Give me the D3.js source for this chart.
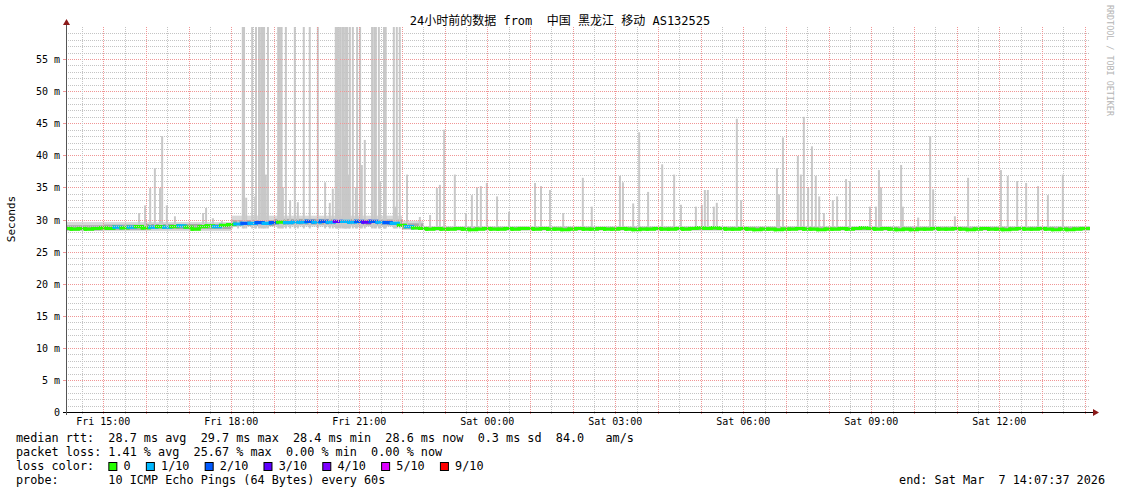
<!DOCTYPE html>
<html>
<head>
<meta charset="utf-8">
<script src="https://cdn.jsdelivr.net/npm/d3@7"></script>
<style>
  body { margin: 0; background: #fff; }
  text { font-family: "DejaVu Sans Mono", "Noto Sans CJK SC", monospace; white-space: pre; }
</style>
</head>
<body>
<div id="grafica"></div>
<script>
// ---- Datos (horas desde Fri 00:00, Sat = 24+) ----
const startHour = 14 + 7 / 60 + 37 / 3600   // Fri 14:07:37
const endHour = startHour + 24               // Sat 14:07:37
const binStart = 14 + 10 / 60                // primer bin: Fri 14:10
const binMinutes = 10

// mediana RTT (ms) cada 10 minutos
const medianMs = [
  28.6, 28.5, 28.6, 28.5, 28.6,
  28.7, 28.6, 28.8, 28.7, 28.8, 28.9,
  28.7, 28.8, 28.9, 28.8, 28.9, 29.0,
  28.8, 28.5, 28.9, 29.0, 28.9, 29.1,
  29.2, 29.3, 29.4, 29.4, 29.5, 29.4,
  29.5, 29.6, 29.5, 29.6, 29.6, 29.7,
  29.6, 29.7, 29.6, 29.7, 29.7, 29.6,
  29.7, 29.6, 29.7, 29.6, 29.5, 29.4,
  29.1, 28.9, 28.7,
  28.6, 28.5, 28.6, 28.5, 28.5, 28.6, 28.5, 28.4, 28.5,
  28.6, 28.5, 28.5, 28.6, 28.5, 28.6, 28.6, 28.5, 28.6, 28.5, 28.5, 28.4,
  28.5, 28.6, 28.5, 28.5, 28.6, 28.5, 28.5, 28.6, 28.5, 28.4, 28.5, 28.5,
  28.6, 28.5, 28.5, 28.6, 28.5, 28.6, 28.7, 28.6, 28.7, 28.6, 28.5, 28.5,
  28.6, 28.5, 28.4, 28.5, 28.5, 28.4, 28.5, 28.5, 28.6, 28.5, 28.5, 28.4,
  28.5, 28.5, 28.6, 28.5, 28.6, 28.7, 28.6, 28.5, 28.6, 28.5, 28.4, 28.5,
  28.4, 28.5, 28.5, 28.6, 28.5, 28.5, 28.6, 28.5, 28.4, 28.5, 28.6, 28.5,
  28.5, 28.4, 28.5, 28.6, 28.5, 28.5, 28.6, 28.5, 28.4, 28.5, 28.4, 28.5, 28.6
]

// pérdida (décimas) por bin
const lossTenths = [
  0, 0, 0, 0, 0,
  0, 0, 1, 0, 1, 0,
  0, 1, 0, 1, 0, 1,
  0, 0, 0, 0, 1, 0,
  0, 1, 2, 1, 2, 1,
  2, 0, 1, 1, 1, 2,
  1, 2, 1, 3, 1, 1,
  2, 3, 2, 1, 2, 1,
  0, 1, 0,
  0, 0, 0, 0, 0, 0, 0, 0, 0,
  0, 0, 0, 0, 0, 0, 0, 0, 0, 0, 0, 0,
  0, 0, 0, 0, 0, 0, 0, 0, 0, 0, 0, 0,
  0, 0, 0, 0, 0, 0, 0, 0, 0, 0, 0, 0,
  0, 0, 0, 0, 0, 0, 0, 0, 0, 0, 0, 0,
  0, 0, 0, 0, 0, 0, 0, 0, 0, 0, 0, 0,
  0, 0, 0, 0, 0, 0, 0, 0, 0, 0, 0, 0,
  0, 0, 0, 0, 0, 0, 0, 0, 0, 0, 0, 0, 0
]

// humo: [desde, hasta, bajo ms, alto ms]
const smokeOuter = [
  [14.12, 18.0, 28.2, 29.6],
  [18.0, 22.0, 28.9, 30.6],
  [22.0, 22.5, 28.4, 29.8],
  [22.5, 38.2, 28.25, 28.95]
]
const smokeInner = [
  [14.12, 15.0, 28.3, 29.1],
  [15.0, 16.0, 28.4, 29.2],
  [16.0, 17.0, 28.5, 29.3],
  [17.0, 18.0, 28.5, 29.3],
  [18.0, 19.0, 29.0, 29.9],
  [19.0, 20.0, 29.2, 30.1],
  [20.0, 21.0, 29.2, 30.1],
  [21.0, 22.0, 29.1, 30.0],
  [22.0, 22.5, 28.5, 29.4],
  [22.5, 38.2, 28.35, 28.8]
]

// picos de ping máximo: [hora, ms]
const spikes = [
  [15.84, 31.0], [15.98, 32.2], [16.10, 34.9], [16.21, 38.0], [16.33, 34.9], [16.38, 43.0],
  [16.49, 32.2], [16.68, 30.5], [17.34, 31.0], [17.41, 31.8], [17.57, 30.2], [17.78, 29.8],
  [18.02, 30.0], [18.16, 29.9], [18.27, 60], [18.30, 60], [18.35, 33.4], [18.49, 60],
  [18.56, 33.6], [18.58, 60], [18.65, 60], [18.70, 60], [18.74, 60], [18.77, 60],
  [18.81, 37.0], [18.86, 60], [19.10, 60], [19.14, 60], [19.18, 60], [19.21, 35.0],
  [19.28, 60], [19.38, 33.0], [19.49, 60], [19.56, 32.7], [19.70, 60], [19.84, 60],
  [20.03, 60], [20.20, 35.8], [20.31, 32.6], [20.38, 34.8], [20.45, 60], [20.48, 60],
  [20.50, 60], [20.55, 60], [20.60, 60], [20.64, 60], [20.67, 43.0], [20.69, 60],
  [20.72, 60], [20.76, 37.0], [20.78, 60], [20.85, 60], [20.92, 35.0], [20.95, 60],
  [21.02, 60], [21.06, 38.5], [21.13, 42.4], [21.30, 60], [21.35, 60], [21.39, 60],
  [21.46, 60], [21.49, 36.0], [21.58, 60], [21.60, 35.0], [21.62, 60], [21.81, 60],
  [21.84, 32.0], [21.88, 60], [21.95, 60], [22.12, 37.0], [22.42, 30.4], [22.66, 30.7],
  [22.82, 34.9], [22.89, 35.4], [22.99, 44.0], [23.24, 37.0], [23.50, 31.0], [23.64, 33.8],
  [23.76, 35.0], [23.85, 35.2], [23.99, 35.7], [24.23, 33.6], [24.51, 31.2], [25.12, 35.7],
  [25.26, 35.2], [25.47, 34.6], [25.78, 31.0], [26.24, 36.5], [26.45, 32.0], [27.11, 36.8],
  [27.18, 35.8], [27.42, 32.5], [27.56, 43.6], [27.77, 34.3], [28.10, 38.6], [28.38, 37.0],
  [28.54, 32.3], [28.89, 32.0], [29.03, 32.3], [29.10, 34.6], [29.17, 34.6], [29.31, 32.0],
  [29.38, 32.6], [29.85, 45.7], [29.95, 33.0], [30.79, 38.0], [30.84, 33.9], [30.93, 42.8],
  [31.28, 39.9], [31.35, 37.0], [31.42, 46.0], [31.52, 35.0], [31.61, 41.4], [31.70, 36.8],
  [31.78, 33.6], [31.89, 31.0], [32.10, 33.0], [32.20, 33.6], [32.41, 36.3], [32.50, 36.0],
  [32.97, 32.0], [33.11, 32.0], [33.18, 37.7], [33.23, 35.0], [33.70, 38.5], [33.74, 32.0],
  [34.10, 30.3], [34.38, 43.0], [34.45, 34.7], [34.96, 30.5], [35.27, 36.5], [36.04, 37.7],
  [36.20, 36.8], [36.42, 36.0], [36.63, 35.7], [36.91, 35.2], [37.14, 33.8], [37.49, 37.0]
]

// ejes
const xTickHours = [15, 18, 21, 24, 27, 30, 33, 36]
const xTickLabels = ["Fri 15:00", "Fri 18:00", "Fri 21:00", "Sat 00:00", "Sat 03:00", "Sat 06:00", "Sat 09:00", "Sat 12:00"]
const yTicks = [0, 5, 10, 15, 20, 25, 30, 35, 40, 45, 50, 55]

// leyenda
const lossLevels = ["0", "1/10", "2/10", "3/10", "4/10", "5/10", "9/10"]
const lossColors = ["#26ff00", "#00b8ff", "#0059ff", "#5e00ff", "#7e00ff", "#dd00ff", "#ff0000"]
const lossValues = [0, 1, 2, 3, 4, 5, 9]

const titulo = "24小时前的数据 from  中国 黑龙江 移动 AS132525"
const filaRtt = "median rtt:  28.7 ms avg  29.7 ms max  28.4 ms min  28.6 ms now  0.3 ms sd  84.0   am/s"
const filaLoss = "packet loss: 1.41 % avg  25.67 % max  0.00 % min  0.00 % now"
const filaProbe = "probe:       10 ICMP Echo Pings (64 Bytes) every 60s"
const textoFin = "end: Sat Mar  7 14:07:37 2026"

// ---- Lienzo ----
const anchoTotal = 1121
const altoTotal = 494
const plot = { left: 66, right: 1090, top: 27, bottom: 412 }

const x = d3.scaleLinear().domain([startHour, endHour]).range([plot.left, plot.right])
const y = d3.scaleLinear().domain([0, 60]).range([plot.bottom, plot.top])
const colorLoss = d3.scaleOrdinal().domain(lossValues).range(lossColors)

const svg = d3.select("#grafica").append("svg")
    .attr("width", anchoTotal)
    .attr("height", altoTotal)
    .style("display", "block")

svg.append("defs").append("clipPath").attr("id", "clip")
  .append("rect")
    .attr("x", plot.left).attr("y", plot.top)
    .attr("width", plot.right - plot.left).attr("height", plot.bottom - plot.top)

const capa = svg.append("g").attr("clip-path", "url(#clip)")

// humo exterior e interior
capa.selectAll("rect.outer").data(smokeOuter).join("rect")
    .attr("class", "outer")
    .attr("x", d => x(d[0]))
    .attr("width", d => x(d[1]) - x(d[0]))
    .attr("y", d => y(d[3]))
    .attr("height", d => y(d[2]) - y(d[3]))
    .attr("fill", "#d8d8d8")

capa.selectAll("rect.inner").data(smokeInner).join("rect")
    .attr("class", "inner")
    .attr("x", d => x(d[0]))
    .attr("width", d => x(d[1]) - x(d[0]))
    .attr("y", d => y(d[3]))
    .attr("height", d => y(d[2]) - y(d[3]))
    .attr("fill", "#a8a8a8")

// picos
const medioAncho = 1.4 / 60
capa.selectAll("rect.spike").data(spikes).join("rect")
    .attr("class", "spike")
    .attr("x", d => x(d[0] - medioAncho))
    .attr("width", d => x(d[0] + medioAncho) - x(d[0] - medioAncho))
    .attr("y", d => y(d[1]))
    .attr("height", d => y(28.6) - y(d[1]))
    .attr("fill", "#c8c8c8")

// mediana coloreada por pérdida
const binHour = i => binStart + i * binMinutes / 60
const mitad = binMinutes / 120
const linea = d3.line().x(d => d[0]).y(d => d[1])
const tramos = medianMs.map((m, i) => {
  const x0 = Math.max(x(binHour(i) - mitad), plot.left)
  const x1 = i === medianMs.length - 1 ? plot.right : x(binHour(i) + mitad)
  const pts = [[x0, y(m)], [x1, y(m)]]
  if (i < medianMs.length - 1) pts.push([x1, y(medianMs[i + 1])])
  return { pts, loss: lossTenths[i] }
})
capa.selectAll("path.med").data(tramos).join("path")
    .attr("class", "med")
    .attr("d", d => linea(d.pts))
    .attr("fill", "none")
    .attr("stroke", d => colorLoss(d.loss))
    .attr("stroke-width", 3.2)
    .attr("stroke-linecap", "square")

// ---- Rejilla (encima, como rrdtool) ----
const gridMinor = "#c4c4c4"
const gridMajor = "#f09696"
const rejilla = svg.append("g").attr("shape-rendering", "crispEdges")
const minorY = d3.range(1, 60).filter(v => v % 5 !== 0)
const majorY = d3.range(5, 60, 5)
rejilla.selectAll("line.my").data(minorY).join("line")
    .attr("x1", plot.left).attr("x2", plot.right)
    .attr("y1", d => Math.round(y(d)) + 0.5).attr("y2", d => Math.round(y(d)) + 0.5)
    .attr("stroke", gridMinor).attr("stroke-dasharray", "1,1")
rejilla.selectAll("line.My").data(majorY).join("line")
    .attr("x1", plot.left).attr("x2", plot.right)
    .attr("y1", d => Math.round(y(d)) + 0.5).attr("y2", d => Math.round(y(d)) + 0.5)
    .attr("stroke", gridMajor).attr("stroke-dasharray", "1,1")

const minorX = d3.range(14.5, 38.2, 1)
const majorX = d3.range(15, 38.2, 1)
rejilla.selectAll("line.mx").data(minorX).join("line")
    .attr("x1", d => Math.round(x(d)) + 0.5).attr("x2", d => Math.round(x(d)) + 0.5)
    .attr("y1", plot.top).attr("y2", plot.bottom + 2)
    .attr("stroke", gridMinor).attr("stroke-dasharray", "1,1")
rejilla.selectAll("line.Mx").data(majorX).join("line")
    .attr("x1", d => Math.round(x(d)) + 0.5).attr("x2", d => Math.round(x(d)) + 0.5)
    .attr("y1", plot.top).attr("y2", plot.bottom + 3)
    .attr("stroke", gridMajor).attr("stroke-dasharray", "1,1")

// ---- Ejes ----
const arrowColor = "#8b1a1a"
svg.append("line")
    .attr("x1", plot.left - 3).attr("x2", plot.right + 4)
    .attr("y1", plot.bottom + 0.5).attr("y2", plot.bottom + 0.5)
    .attr("stroke", "#000")
svg.append("line")
    .attr("x1", plot.left + 0.5).attr("x2", plot.left + 0.5)
    .attr("y1", plot.bottom + 3).attr("y2", plot.top - 3)
    .attr("stroke", "#555")
svg.append("path")
    .attr("d", `M${plot.right + 3},${plot.bottom - 3} L${plot.right + 9},${plot.bottom + 0.5} L${plot.right + 3},${plot.bottom + 4} Z`)
    .attr("fill", arrowColor)
svg.append("path")
    .attr("d", `M${plot.left - 3},${plot.top - 2} L${plot.left + 0.5},${plot.top - 8} L${plot.left + 4},${plot.top - 2} Z`)
    .attr("fill", arrowColor)

// ticks izquierdos
svg.selectAll("line.yt").data(yTicks).join("line")
    .attr("x1", plot.left - 3).attr("x2", plot.left)
    .attr("y1", d => Math.round(y(d)) + 0.5).attr("y2", d => Math.round(y(d)) + 0.5)
    .attr("stroke", d => d === 0 ? "#000" : gridMajor)

svg.selectAll("text.yl").data(yTicks).join("text")
    .attr("class", "yl")
    .attr("x", 60)
    .attr("y", d => y(d) + 4)
    .attr("text-anchor", "end")
    .attr("font-size", "10px")
    .attr("fill", "#000")
    .text(d => d === 0 ? "0" : `${d} m`)

svg.selectAll("text.xl").data(xTickHours).join("text")
    .attr("class", "xl")
    .attr("x", d => x(d))
    .attr("y", 425)
    .attr("text-anchor", "middle")
    .attr("font-size", "10px")
    .attr("fill", "#000")
    .text((d, i) => xTickLabels[i])

// título
svg.append("text")
    .attr("x", 560)
    .attr("y", 25)
    .attr("text-anchor", "middle")
    .attr("font-size", "12px")
    .text(titulo)

// etiqueta vertical
svg.append("text")
    .attr("transform", "translate(15,219) rotate(-90)")
    .attr("text-anchor", "middle")
    .attr("font-size", "11px")
    .text("Seconds")

// marca de agua
svg.append("text")
    .attr("transform", "translate(1107,5) rotate(90)")
    .attr("font-size", "8.4px")
    .attr("fill", "#b4b4b4")
    .text("RRDTOOL / TOBI OETIKER")

// ---- Leyenda ----
const fs = 11.8
const cw = fs * 0.602
const ley = svg.append("g").attr("font-size", fs + "px").attr("fill", "#000")
ley.append("text").attr("x", 16).attr("y", 442).text(filaRtt)
ley.append("text").attr("x", 16).attr("y", 456).text(filaLoss)
ley.append("text").attr("x", 16).attr("y", 470).text("loss color:")
ley.append("text").attr("x", 16).attr("y", 484).text(filaProbe)
ley.append("text").attr("x", 1105).attr("y", 484).attr("text-anchor", "end").text(textoFin)

let cursor = 16 + 13 * cw
const hueco = 15.2
lossLevels.forEach((lab, i) => {
  const item = ley.append("g").attr("transform", `translate(${cursor},0)`)
  item.append("rect")
      .attr("x", 0.5).attr("y", 462.5)
      .attr("width", 8).attr("height", 8)
      .attr("fill", lossColors[i])
      .attr("stroke", "#000")
  item.append("text").attr("x", hueco).attr("y", 470).text(lab)
  cursor += hueco + lab.length * cw + hueco
})
</script>
</body>
</html>
